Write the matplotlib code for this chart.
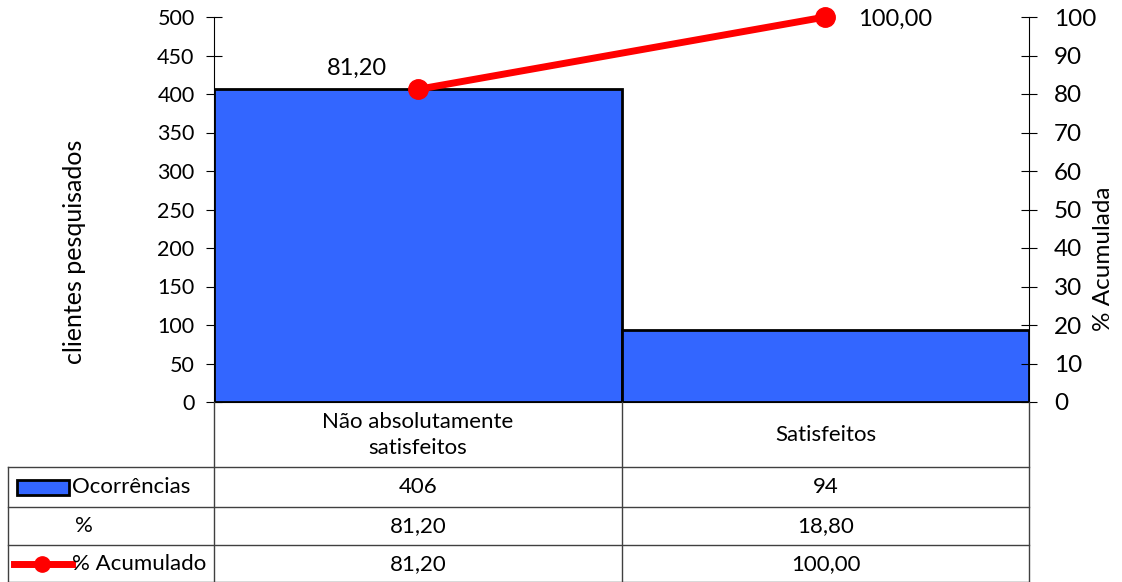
import matplotlib
matplotlib.use("Agg")
import matplotlib.pyplot as plt
from matplotlib.lines import Line2D
from matplotlib.patches import Rectangle

plt.rcParams["font.family"] = ["Lato", "DejaVu Sans"]

categorias = ["Não absolutamente\nsatisfeitos", "Satisfeitos"]
ocorrencias = [406, 94]
percentual = [81.20, 18.80]
acumulado = [81.20, 100.00]

AZUL = "#3366FF"
VERMELHO = "#FF0000"
W, H = 1122, 582


def fmt(v):
    return f"{v:.2f}".replace(".", ",")


fig = plt.figure(figsize=(W / 100, H / 100), dpi=100)
ax = fig.add_axes([214 / W, 1 - 402 / H, (1029 - 214) / W, (402 - 17) / H])

x = list(range(len(categorias)))
ax.bar(x, ocorrencias, width=1.0, color=AZUL, edgecolor="black", linewidth=2, zorder=2)
ax.set_xlim(-0.5, len(categorias) - 0.5)
ax.set_ylim(0, 500)
ax.set_yticks(range(0, 501, 50))
ax.set_xticks([])
ax.tick_params(axis="y", direction="inout", length=12, labelsize=15.5, pad=8)
for s in ("top", "right"):
    ax.spines[s].set_visible(False)

ax2 = ax.twinx()
ax2.set_ylim(0, 100)
ax2.set_yticks(range(0, 101, 10))
ax2.plot(x, acumulado, color=VERMELHO, lw=5, marker="o", ms=14, zorder=3, clip_on=False)
ax2.tick_params(axis="y", direction="inout", length=12, labelsize=17.5, pad=12)
for s in ("top", "left", "bottom"):
    ax2.spines[s].set_visible(False)
ax2.annotate(fmt(acumulado[0]), (x[0], acumulado[0]), xytext=(-44, 15),
             textcoords="offset points", ha="center", va="center", fontsize=17)
ax2.annotate(fmt(acumulado[1]), (x[1], acumulado[1]), xytext=(50, -2),
             textcoords="offset points", ha="center", va="center", fontsize=17)

fig.text(75 / W, 1 - 252 / H, "clientes pesquisados", rotation=90,
         ha="center", va="center", fontsize=18)
fig.text(1103 / W, 1 - 259 / H, "% Acumulada", rotation=90,
         ha="center", va="center", fontsize=17.5)

# tabela de dados abaixo do eixo
def hline(y, x0, x1):
    fig.add_artist(Line2D([x0 / W, x1 / W], [1 - y / H, 1 - y / H], color="#404040", lw=1))


def vline(xp, y0, y1):
    fig.add_artist(Line2D([xp / W, xp / W], [1 - y0 / H, 1 - y1 / H], color="#404040", lw=1))


cols = [214, 622, 1029]
for c in cols:
    vline(c, 402, 582)
vline(8, 467, 582)
for yy in (467, 507, 545):
    hline(yy, 8, 1029)
hline(581.5, 8, 1029)

centros = [(cols[i] + cols[i + 1]) / 2 for i in range(len(categorias))]
for cx, cat in zip(centros, categorias):
    fig.text(cx / W, 1 - 435 / H, cat, ha="center", va="center", fontsize=16,
             linespacing=1.35)

linhas = [
    ("Ocorrências", [str(v) for v in ocorrencias], 487),
    ("%", [fmt(v) for v in percentual], 526),
    ("% Acumulado", [fmt(v) for v in acumulado], 564),
]
for rotulo, valores, yy in linhas:
    xt = 75 if rotulo == "%" else 72
    fig.text(xt / W, 1 - yy / H, rotulo, ha="left", va="center", fontsize=16)
    for cx, v in zip(centros, valores):
        fig.text(cx / W, 1 - yy / H, v, ha="center", va="center", fontsize=16)

# chaves de legenda na tabela
fig.add_artist(Rectangle((17 / W, 1 - 495 / H), 52 / W, 15 / H, facecolor=AZUL,
                         edgecolor="black", lw=2, transform=fig.transFigure))
fig.add_artist(Line2D([14 / W, 72 / W], [1 - 564 / H, 1 - 564 / H], color=VERMELHO, lw=5))
fig.add_artist(Line2D([42 / W], [1 - 564 / H], color=VERMELHO, marker="o", ms=11))

fig.savefig("out.png", dpi=100)
